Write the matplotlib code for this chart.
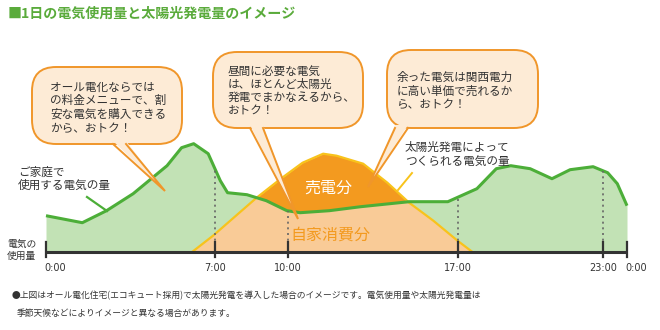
import matplotlib
matplotlib.use("Agg")
import matplotlib.pyplot as plt
import numpy as np
from matplotlib.patches import FancyBboxPatch, Polygon

plt.rcParams['font.family'] = ['Noto Sans CJK JP', 'DejaVu Sans']

# data: hour of day and relative amount
usage_h = [0, 1.5, 2.5, 3.6, 5.0, 5.6, 6.1, 6.7, 7.2, 7.5, 8.3, 9.1, 9.95, 10.5,
           11.7, 13.0, 15.0, 16.6, 17.8, 18.6, 19.2, 20.0, 20.9, 21.65, 22.6,
           23.2, 23.6, 24]
usage_v = [36, 29, 41, 58, 86, 104, 108, 98, 71, 59, 57, 51, 41, 39,
           41, 45, 50, 50, 63, 83, 86, 83, 73, 82, 85,
           79, 68, 46]
solar_h = [6.05, 6.9, 8.7, 9.7, 10.6, 11.45, 12.0, 13.1, 14.1, 15.0, 16.0, 17.0, 17.6]
solar_v = [0, 16, 54, 73, 89, 98, 96, 88, 69, 49, 31, 11, 0]
tick_hours = [0, 7, 10, 17, 23, 24]
tick_labels = ['0:00', '7:00', '10:00', '17:00', '23:00', '0:00']
guide_hours = [7, 10, 17, 23]

title = '■1日の電気使用量と太陽光発電量のイメージ'
bubble_texts = [
    ['オール電化ならでは', 'の料金メニューで、割', '安な電気を購入できる', 'から、おトク！'],
    ['昼間に必要な電気', 'は、ほとんど太陽光', '発電でまかなえるから、', 'おトク！'],
    ['余った電気は関西電力', 'に高い単価で売れるか', 'ら、おトク！'],
]
note_lines = ['●上図はオール電化住宅(エコキュート採用)で太陽光発電を導入した場合のイメージです。電気使用量や太陽光発電量は',
              '季節天候などによりイメージと異なる場合があります。']

GREEN = '#4cae38'
GREEN_FILL = '#c2e2b5'
ORANGE = '#f39a1f'
ORANGE_LIGHT = '#f9cb97'
YELLOW = '#f8c31b'
TEXT = '#333333'
BUB_EDGE = '#f0962a'
BUB_FILL = '#fdebd6'

W, H = 660, 330
fig = plt.figure(figsize=(W / 100, H / 100), dpi=100)

# chart axes: hours across, baseline at 0
ax = fig.add_axes([0, 0, 1, 1])
scale = 581 / 24
ax.set_xlim(-46 / scale, (W - 46) / scale)
ax.set_ylim(-(H - 251.7), 251.7)
ax.axis('off')

ax.fill_between(usage_h, 0, usage_v, color=GREEN_FILL, lw=0, zorder=1)
ax.fill_between(solar_h, 0, solar_v, color=ORANGE_LIGHT, lw=0, zorder=2)
grid = np.array(sorted(set(usage_h) | set(solar_h)))
u = np.interp(grid, usage_h, usage_v)
s = np.interp(grid, solar_h, solar_v, left=0, right=0)
ax.fill_between(grid, u, s, where=s > u, interpolate=True, color=ORANGE, lw=0, zorder=3)
ax.plot(solar_h, solar_v, color=YELLOW, lw=1.6, zorder=4, solid_joinstyle='round')
ax.plot(usage_h, usage_v, color=GREEN, lw=2.2, zorder=5, solid_joinstyle='round',
        solid_capstyle='butt')

for h in guide_hours:
    ax.plot([h, h], [0, np.interp(h, usage_h, usage_v)], color='#666666', lw=1.2,
            ls=(0, (1.2, 2.2)), zorder=6)

ax.plot([0, 24], [0, 0], color=TEXT, lw=2.2, zorder=7, solid_capstyle='butt')
for h, lab in zip(tick_hours, tick_labels):
    ax.plot([h, h], [-5, 10], color=TEXT, lw=1.6, zorder=7)
    ha = 'left' if lab == '0:00' else 'center'
    ax.text(h - (0.05 if ha == 'left' else 0), -16.5, lab, ha=ha, va='center',
            fontsize=7, color=TEXT, family='DejaVu Sans')

# overlay in pixel units for callouts and labels
ov = fig.add_axes([0, 0, 1, 1], zorder=10)
ov.set_xlim(0, W)
ov.set_ylim(H, 0)
ov.axis('off')
ov.patch.set_alpha(0)


def bubble(x0, y0, x1, y1, tail, lines, tx, ty, step):
    b = FancyBboxPatch((x0, y0), x1 - x0, y1 - y0,
                       boxstyle='round,pad=0,rounding_size=24',
                       fc=BUB_FILL, ec=BUB_EDGE, lw=1.4, zorder=1)
    ov.add_patch(b)
    (bx1, by1), tip, (bx2, by2) = tail
    ov.add_patch(Polygon([(bx1, by1 - 3), tip, (bx2, by2 - 3)], closed=True,
                         fc=BUB_FILL, ec='none', zorder=2))
    ov.plot([bx1, tip[0], bx2], [by1, tip[1], by2], color=BUB_EDGE, lw=1.4,
            zorder=3, solid_joinstyle='miter')
    for i, line in enumerate(lines):
        ov.text(tx, ty + i * step, line, ha='left', va='center', fontsize=8.4,
                color=TEXT, zorder=4)


bubble(32, 67, 182, 144, [(113, 144), (165, 191), (126, 144)],
       bubble_texts[0], 50, 87, 13.8)
bubble(213, 52, 363, 128, [(250, 128), (298, 219), (263, 128)],
       bubble_texts[1], 228, 71, 13.2)
bubble(387, 50, 538, 128, [(395, 128), (368, 187), (408, 128)],
       bubble_texts[2], 397, 77, 14)

ov.text(8, 14, title, ha='left', va='center', fontsize=10.1, color='#5aab3b',
        fontweight='bold')

ov.text(18, 172, 'ご家庭で', ha='left', va='center', fontsize=8.4, color=TEXT)
ov.text(18, 185, '使用する電気の量', ha='left', va='center', fontsize=8.4, color=TEXT)
ov.plot([87, 107], [197, 211], color=GREEN, lw=1.6)

ov.text(405, 147, '太陽光発電によって', ha='left', va='center', fontsize=8.4, color=TEXT)
ov.text(405, 161, 'つくられる電気の量', ha='left', va='center', fontsize=8.4, color=TEXT)
ov.plot([412, 398], [173, 190], color=YELLOW, lw=1.4)

ov.text(328, 188, '売電分', ha='center', va='center', fontsize=11.5, color='white')
ov.text(330, 235, '自家消費分', ha='center', va='center', fontsize=11.5, color=ORANGE)

ov.text(7, 244, '電気の', ha='left', va='center', fontsize=7, color=TEXT)
ov.text(7, 256, '使用量', ha='left', va='center', fontsize=7, color=TEXT)

ov.text(12, 296, note_lines[0], ha='left', va='center', fontsize=6.3, color=TEXT)
ov.text(17, 313, note_lines[1], ha='left', va='center', fontsize=6.3, color=TEXT)

fig.savefig('out.png', dpi=100)
